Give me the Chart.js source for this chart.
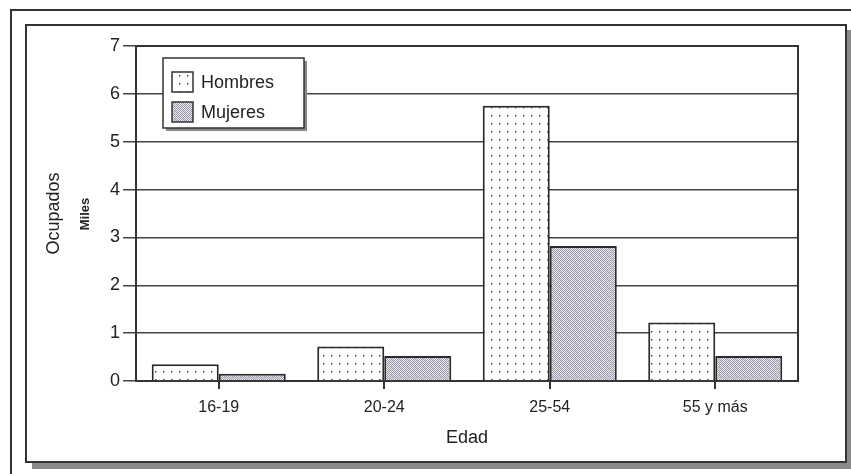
<!DOCTYPE html>
<html>
<head>
<meta charset="utf-8">
<script src="https://cdn.jsdelivr.net/npm/chart.js@4.4.1/dist/chart.umd.min.js"></script>
<style>
  html, body { margin: 0; padding: 0; background: #fff; }
  canvas { display: block; }
</style>
</head>
<body>
<canvas id="myChart" width="851" height="474"></canvas>
<script>
// -- data --
const edades = ['16-19', '20-24', '25-54', '55 y más'];
const hombres = [0.35, 0.72, 5.75, 1.22];
const mujeres = [0.15, 0.52, 2.82, 0.52];
const yMin = 0, yMax = 7, yStep = 1;

const ink = '#222';
const fontFam = '"Liberation Sans", Arial, sans-serif';

// --> sparse dot fill <--
function dotPattern()
{
    let c = document.createElement('canvas');
    c.width = 8; c.height = 8;
    let g = c.getContext('2d');
    g.fillStyle = '#fff';
    g.fillRect(0, 0, 8, 8);
    g.fillStyle = '#444';
    g.fillRect(3, 3, 1, 1);
    g.fillStyle = '#999';
    g.fillRect(4, 3, 1, 1);
    g.fillRect(3, 4, 1, 1);
    return g.createPattern(c, 'repeat');
}

// --> dithered grey fill, slightly blue <--
function ditherPattern()
{
    let c = document.createElement('canvas');
    c.width = 8; c.height = 8;
    let g = c.getContext('2d');
    for (let y = 0; y < 8; ++y)
        for (let x = 0; x < 8; ++x)
        {
            g.fillStyle = ((x + y) % 2) ? '#ededf3' : '#9a9aac';
            g.fillRect(x, y, 1, 1);
        }
    g.fillStyle = '#c4c4d2';
    g.fillRect(1, 0, 1, 1);
    g.fillRect(5, 2, 1, 1);
    g.fillRect(3, 4, 1, 1);
    g.fillRect(7, 6, 1, 1);
    return g.createPattern(c, 'repeat');
}

// -- page frames drawn behind the chart --
const framePlugin = {
    id: 'frames',
    beforeDraw(chart)
    {
        const c = chart.ctx;
        c.save();
        c.strokeStyle = '#333';
        c.lineWidth = 2;
        // outer corner line
        c.beginPath();
        c.moveTo(11, 474);
        c.lineTo(11, 10);
        c.lineTo(851, 10);
        c.stroke();
        // inner panel + shadow
        c.fillStyle = '#8a8a8a';
        c.fillRect(846, 30, 5, 439);
        c.fillRect(32, 463, 819, 6);
        c.strokeRect(26, 25, 820, 437);
        c.restore();
    },
    beforeDatasetsDraw(chart)
    {
        const a = chart.chartArea;
        const c = chart.ctx;
        c.save();
        c.strokeStyle = '#333';
        c.lineWidth = 2;
        c.strokeRect(a.left, a.top, a.right - a.left, a.bottom - a.top);
        // second line of the y title
        c.translate(85, 214);
        c.rotate(-Math.PI / 2);
        c.fillStyle = ink;
        c.font = 'bold 13px ' + fontFam;
        c.textAlign = 'center';
        c.textBaseline = 'middle';
        c.fillText('Miles', 0, 0);
        c.restore();
    }
};

// -- boxed legend inside the plot --
const boxLegend = {
    id: 'boxLegend',
    afterDatasetsDraw(chart)
    {
        const c = chart.ctx;
        const x = 163, y = 58, w = 141, h = 70;
        c.save();
        c.fillStyle = '#8a8a8a';
        c.fillRect(x + 3, y + h, w, 3);
        c.fillRect(x + w, y + 3, 3, h);
        c.fillStyle = '#fff';
        c.fillRect(x, y, w, h);
        c.strokeStyle = '#333';
        c.lineWidth = 1.5;
        c.strokeRect(x, y, w, h);

        c.font = '18px ' + fontFam;
        c.textBaseline = 'middle';
        chart.data.datasets.forEach((ds, i) => {
            let cy = 82 + i * 30;
            c.fillStyle = ds.backgroundColor;
            c.fillRect(172, cy - 10, 21, 20);
            c.strokeStyle = '#333';
            c.lineWidth = 1.5;
            c.strokeRect(172, cy - 10, 21, 20);
            c.fillStyle = ink;
            c.fillText(ds.label, 201, cy + 1);
        });
        c.restore();
    }
};

let chartObj = {
    type: 'bar',
    data: {
        labels: edades,
        datasets: [{
            label: 'Hombres',
            data: hombres,
            backgroundColor: dotPattern(),
            borderColor: '#2a2a2a',
            borderWidth: 2,
            borderSkipped: 'bottom'
        },
        {
            label: 'Mujeres',
            data: mujeres,
            backgroundColor: ditherPattern(),
            borderColor: '#2a2a2a',
            borderWidth: 2,
            borderSkipped: 'bottom'
        }]
    },
    options: {
        responsive: false,
        animation: false,
        datasets: { bar: { categoryPercentage: 0.81, barPercentage: 1 } },
        layout: { padding: { left: 0, right: 53, top: 46, bottom: 0 } },
        plugins: { legend: { display: false }, tooltip: { enabled: false } },
        scales: {
            x: {
                grid: { offset: false, drawOnChartArea: false, tickLength: 8, color: '#333', lineWidth: 2 },
                border: { color: '#333', width: 2 },
                ticks: { font: { family: fontFam, size: 16 }, color: ink, padding: 9 },
                title: { display: true, text: 'Edad', color: ink, font: { family: fontFam, size: 18 }, padding: { top: 0, bottom: 25 } },
                afterFit(s) { s.height = 93; }
            },
            y: {
                min: yMin,
                max: yMax,
                ticks: { stepSize: yStep, font: { family: fontFam, size: 18 }, color: ink, padding: 3 },
                grid: { color: '#444', lineWidth: 1.5, tickLength: 13 },
                border: { color: '#333', width: 2 },
                title: { display: true, text: 'Ocupados', color: ink, font: { family: fontFam, size: 18 }, padding: { top: 43, bottom: 0 } },
                afterFit(s) { s.width = 136; }
            }
        }
    },
    plugins: [framePlugin, boxLegend]
};

const ctx = document.getElementById('myChart').getContext('2d');
const myChart = new Chart(ctx, chartObj);
</script>
</body>
</html>
